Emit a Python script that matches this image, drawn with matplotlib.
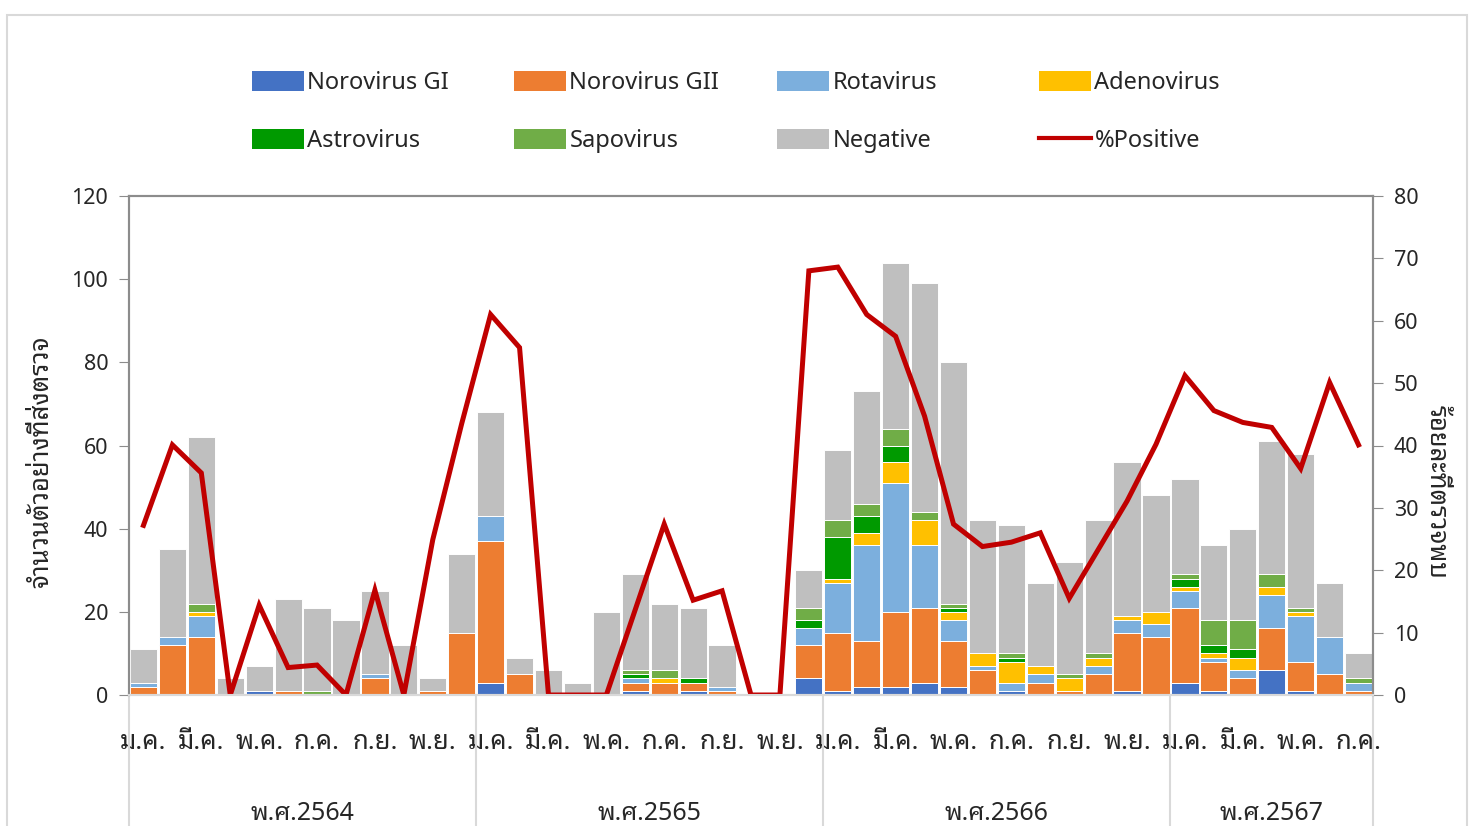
import numpy as np
import matplotlib
matplotlib.use('Agg')
import matplotlib.pyplot as plt
from matplotlib.patches import Patch, Rectangle
from matplotlib.lines import Line2D

# ---- data ----
years = ['พ.ศ.2564', 'พ.ศ.2565', 'พ.ศ.2566', 'พ.ศ.2567']
months_per_year = [12, 12, 12, 7]
month_names = ['ม.ค.', 'ก.พ.', 'มี.ค.', 'เม.ย.', 'พ.ค.', 'มิ.ย.',
               'ก.ค.', 'ส.ค.', 'ก.ย.', 'ต.ค.', 'พ.ย.', 'ธ.ค.']

noro_gi = [0, 0, 0, 0, 1, 0, 0, 0, 0, 0, 0, 0,
           3, 0, 0, 0, 0, 1, 0, 1, 0, 0, 0, 4,
           1, 2, 2, 3, 2, 0, 1, 0, 0, 0, 1, 0,
           3, 1, 0, 6, 1, 0, 0]
noro_gii = [2, 12, 14, 0, 0, 1, 0, 0, 4, 0, 1, 15,
            34, 5, 0, 0, 0, 2, 3, 2, 1, 0, 0, 8,
            14, 11, 18, 18, 11, 6, 0, 3, 1, 5, 14, 14,
            18, 7, 4, 10, 7, 5, 1]
rota = [1, 2, 5, 0, 0, 0, 0, 0, 1, 0, 0, 0,
        6, 0, 0, 0, 0, 1, 0, 0, 1, 0, 0, 4,
        12, 23, 31, 15, 5, 1, 2, 2, 0, 2, 3, 3,
        4, 1, 2, 8, 11, 9, 2]
adeno = [0, 0, 1, 0, 0, 0, 0, 0, 0, 0, 0, 0,
         0, 0, 0, 0, 0, 0, 1, 0, 0, 0, 0, 0,
         1, 3, 5, 6, 2, 3, 5, 2, 3, 2, 1, 3,
         1, 1, 3, 2, 1, 0, 0]
astro = [0, 0, 0, 0, 0, 0, 0, 0, 0, 0, 0, 0,
         0, 0, 0, 0, 0, 1, 0, 1, 0, 0, 0, 2,
         10, 4, 4, 0, 1, 0, 1, 0, 0, 0, 0, 0,
         2, 2, 2, 0, 0, 0, 0]
sapo = [0, 0, 2, 0, 0, 0, 1, 0, 0, 0, 0, 0,
        0, 0, 0, 0, 0, 1, 2, 0, 0, 0, 0, 3,
        4, 3, 4, 2, 1, 0, 1, 0, 1, 1, 0, 0,
        1, 6, 7, 3, 1, 0, 1]
negative = [8, 21, 40, 4, 6, 22, 20, 18, 20, 12, 3, 19,
            25, 4, 6, 3, 20, 23, 16, 17, 10, 0, 0, 9,
            17, 27, 40, 55, 58, 32, 31, 20, 27, 32, 37, 28,
            23, 18, 22, 32, 37, 13, 6]
pct_positive = [27.2, 40.1, 35.6, 0, 14.4, 4.4, 4.8, 0, 16.8, 0, 24.9, 43.5,
                61.0, 55.7, 0, 0, 0, 13.7, 27.4, 15.2, 16.7, 0, 0, 68.0,
                68.6, 61.0, 57.5, 44.7, 27.4, 23.8, 24.5, 26.0, 15.5, 23.3, 31.1, 40.2,
                51.2, 45.6, 43.7, 42.9, 36.3, 50.1, 40.1]

series = [('Norovirus GI', noro_gi, '#4472C4'),
          ('Norovirus GII', noro_gii, '#ED7D31'),
          ('Rotavirus', rota, '#7CAFDD'),
          ('Adenovirus', adeno, '#FFC000'),
          ('Astrovirus', astro, '#009A00'),
          ('Sapovirus', sapo, '#70AD47'),
          ('Negative', negative, '#BFBFBF')]

# Latin glyphs from Noto Sans, Thai falls through to the looped Thai face
plt.rcParams['font.family'] = ['Noto Sans', 'Noto Sans Thai Looped', 'DejaVu Sans']
TXT = '#262626'

n = len(negative)
x = np.arange(n)
labels = []
for cnt in months_per_year:
    labels += month_names[:cnt]

fig = plt.figure(figsize=(14.71, 8.26), dpi=100)
ax = fig.add_axes([129 / 1471, 1 - 695 / 826, (1373 - 129) / 1471, (695 - 196) / 826])
ax2 = ax.twinx()

bottom = np.zeros(n)
for name, vals, col in series:
    ax.bar(x, vals, bottom=bottom, width=0.94, color=col, edgecolor='white',
           linewidth=0.7, label=name, zorder=2)
    bottom += np.array(vals)

ax2.plot(x, pct_positive, color='#C00000', linewidth=3.6, solid_joinstyle='miter')

ax.set_xlim(-0.5, n - 0.5)
ax.set_ylim(0, 120)
ax.set_yticks(range(0, 121, 20))
ax2.set_ylim(0, 80)
ax2.set_yticks(range(0, 81, 10))

ax.set_xticks(x[::2])
ax.set_xticklabels(labels[::2], fontsize=18.5, color=TXT)
ax.tick_params(axis='x', length=0, pad=25)
ax.tick_params(axis='y', labelsize=15.5, labelcolor=TXT, length=7, color='#8c8c8c', pad=8)
ax2.tick_params(axis='y', labelsize=15.5, labelcolor=TXT, length=7, color='#8c8c8c', pad=8)

for a in (ax, ax2):
    for s in ('left', 'right', 'top'):
        a.spines[s].set_color('#8c8c8c')
        a.spines[s].set_linewidth(1.5)
    a.spines['bottom'].set_color('#d9d9d9')
    a.spines['bottom'].set_linewidth(1.5)

ax.text(-0.0699, 0.467, 'จำนวนตัวอย่างที่ส่งตรวจ', transform=ax.transAxes, rotation=90,
        ha='center', va='center', fontsize=18.5, color=TXT)
ax2.text(1.0507, 0.407, 'ร้อยละที่ตรวจพบ', transform=ax.transAxes, rotation=-90,
         ha='center', va='center', fontsize=18.5, color=TXT)

# year separators and year labels
edges = np.concatenate([[0], np.cumsum(months_per_year)]) - 0.5
trans = ax.get_xaxis_transform()
for e in edges:
    ax.plot([e, e], [0, -0.3], transform=trans, color='#d9d9d9', lw=1.5, clip_on=False)
for i, yr in enumerate(years):
    ax.text((edges[i] + edges[i + 1]) / 2, -0.238, yr, transform=trans,
            ha='center', va='center', fontsize=18, color=TXT)

# legend: four columns of two entries each
handles = [Patch(facecolor=c, edgecolor='none') for _, _, c in series]
handles.append(Line2D([], [], color='#C00000', lw=3))
names = [s[0] for s in series] + ['%Positive']
col_x = [252, 514, 777, 1039]
for c in range(4):
    idx = [c, c + 4]
    fig.legend([handles[i] for i in idx], [names[i] for i in idx],
               loc='upper left', bbox_to_anchor=(col_x[c] / 1471, 1 - 71 / 826),
               frameon=False, fontsize=17, handlelength=2.2, handleheight=0.93,
               handletextpad=0.15, labelspacing=1.42, borderpad=0, borderaxespad=0,
               labelcolor=TXT)

fig.patches.append(Rectangle((7 / 1471, -0.01), 1460 / 1471, 1 - 15 / 826 + 0.01,
                             transform=fig.transFigure, fill=False,
                             edgecolor='#d9d9d9', lw=1.5))

fig.savefig('out.png', dpi=100)
